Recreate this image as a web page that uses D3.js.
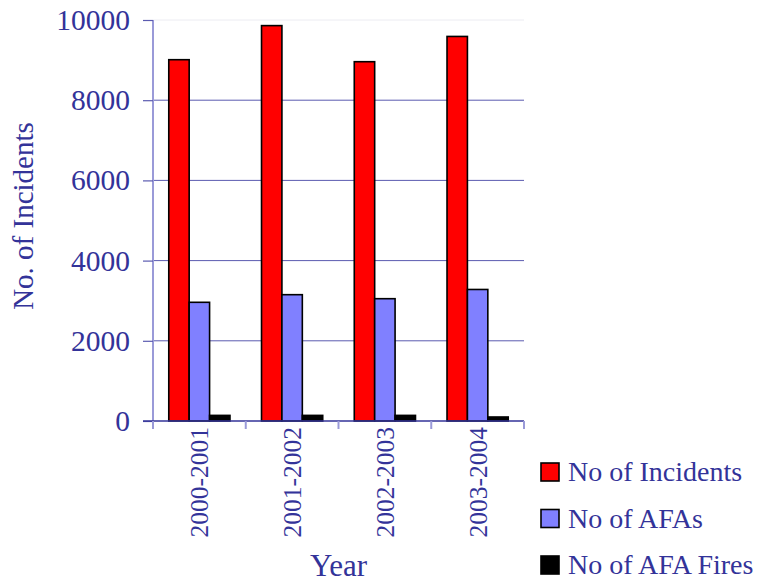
<!DOCTYPE html>
<html>
<head>
<meta charset="utf-8">
<script src="https://cdn.jsdelivr.net/npm/d3@7"></script>
<style>
  html, body { margin: 0; padding: 0; background: #ffffff; }
  svg { display: block; }
  text { font-family: "Liberation Serif", "Times New Roman", serif; fill: #333399; }
</style>
</head>
<body>
<svg id="chart" width="768" height="583"></svg>
<script>
// Fire service incident counts by year
const years = ["2000-2001", "2001-2002", "2002-2003", "2003-2004"];
const seriesNames = ["No of Incidents", "No of AFAs", "No of AFA Fires"];
const incidents = [9010, 9860, 8960, 9590];
const afas = [2960, 3150, 3050, 3280];
const afaFires = [140, 140, 140, 100];
const yTicks = [0, 2000, 4000, 6000, 8000, 10000];
const seriesColors = ["#ff0000", "#8080ff", "#000000"];

const seriesValues = [incidents, afas, afaFires];
const rows = years.map((y, i) => ({
  year: y,
  values: seriesNames.map((s, k) => ({ series: s, value: seriesValues[k][i] }))
}));

const svg = d3.select("#chart");
const plot = { left: 153, right: 524, top: 20, bottom: 421 };
const ink = "#333399";

const x0 = d3.scaleBand().domain(years).range([plot.left, plot.right]).padding(0);
const bw = x0.bandwidth();
const x1 = d3.scaleBand().domain(seriesNames).range([bw * 0.17, bw * 0.83]).padding(0);
const y = d3.scaleLinear().domain([0, 10000]).range([plot.bottom, plot.top]);
const color = d3.scaleOrdinal().domain(seriesNames).range(seriesColors);

// Horizontal gridlines
svg.append("g")
  .selectAll("line")
  .data(yTicks.filter(t => t > 0))
  .join("line")
  .attr("x1", plot.left).attr("x2", plot.right)
  .attr("y1", d => y(d)).attr("y2", d => y(d))
  .attr("stroke", d => d === 10000 ? "#ececf2" : "#5b5bb0")
  .attr("stroke-width", 1);

// Y axis
const yAxis = svg.append("g")
  .attr("transform", `translate(${plot.left},0)`)
  .call(d3.axisLeft(y).tickValues(yTicks).tickSize(10).tickPadding(13).tickFormat(d3.format("d")));
yAxis.select(".domain").attr("stroke", "#9a9ad8").attr("stroke-width", 2)
  .attr("d", `M0,${plot.top}V${plot.bottom}`);
yAxis.selectAll(".tick line").attr("stroke", "#5b5bb0").attr("stroke-width", 1.2);
yAxis.selectAll(".tick text")
  .style("font-size", "29.5px")
  .attr("fill", ink);

// Bars
const groups = svg.append("g")
  .selectAll("g")
  .data(rows)
  .join("g")
  .attr("transform", d => `translate(${x0(d.year)},0)`);

groups.selectAll("rect")
  .data(d => d.values)
  .join("rect")
  .attr("x", d => x1(d.series))
  .attr("y", d => y(d.value))
  .attr("width", x1.bandwidth())
  .attr("height", d => y(0) - y(d.value))
  .attr("fill", d => color(d.series))
  .attr("stroke", "#000")
  .attr("stroke-width", 1.6);

// X axis
const xAxis = svg.append("g")
  .attr("transform", `translate(0,${plot.bottom})`)
  .call(d3.axisBottom(x0).tickSize(0).tickPadding(0));
xAxis.select(".domain").attr("stroke", "#333399").attr("stroke-width", 1.5)
  .attr("d", `M${plot.left - 10},0H${plot.right}`);
xAxis.selectAll(".tick text")
  .style("font-size", "25.5px")
  .attr("fill", ink)
  .attr("text-anchor", "end")
  .attr("transform", "translate(0,6) rotate(-90)")
  .attr("x", 0).attr("y", 0).attr("dy", "0.35em");

// Category separators below the baseline
svg.append("g")
  .selectAll("line")
  .data(years.map(d => x0(d)).concat([plot.right]))
  .join("line")
  .attr("x1", d => d).attr("x2", d => d)
  .attr("y1", plot.bottom).attr("y2", plot.bottom + 8)
  .attr("stroke", "#9a9ad8").attr("stroke-width", 2);

// Axis titles
svg.append("defs").append("clipPath").attr("id", "titleClip")
  .append("rect").attr("x", 0).attr("y", 122).attr("width", 60).attr("height", 300);
svg.append("g")
  .attr("clip-path", "url(#titleClip)")
  .append("text")
  .attr("transform", "translate(33,216) rotate(-90)")
  .attr("text-anchor", "middle")
  .style("font-size", "29px")
  .text("No. of Incidents");

svg.append("text")
  .attr("x", (plot.left + plot.right) / 2)
  .attr("y", 576)
  .attr("text-anchor", "middle")
  .style("font-size", "31px")
  .text("Year");

// Legend
const legend = svg.append("g")
  .selectAll("g")
  .data(seriesNames)
  .join("g")
  .attr("transform", (d, i) => `translate(541,${472 + i * 46.5})`);
legend.append("rect")
  .attr("x", 0).attr("y", -9)
  .attr("width", 18).attr("height", 18)
  .attr("fill", d => color(d))
  .attr("stroke", "#000").attr("stroke-width", 1.6);
legend.append("text")
  .attr("x", 27).attr("y", 9)
  .style("font-size", "28px")
  .text(d => d);
</script>
</body>
</html>
